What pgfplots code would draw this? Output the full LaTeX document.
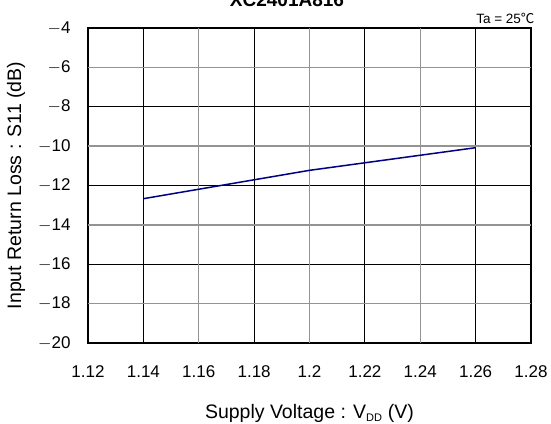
\documentclass[border=0pt]{standalone}
\usepackage{pgfplots}
\pgfplotsset{compat=1.18}
\usepackage{fontspec}
\setmainfont{Liberation Sans}
\newfontfamily\cjk{Noto Sans CJK JP}
\begin{document}
\begin{tikzpicture}[x=1pt,y=1pt]
\begin{axis}[
  at={(88pt,80pt)}, anchor=south west,
  scale only axis, width=443pt, height=315pt,
  xmin=1.12, xmax=1.28, ymin=-20, ymax=-4,
  xtick={1.12,1.14,...,1.28},
  xticklabels={1.12,1.14,1.16,1.18,1.2,1.22,1.24,1.26,1.28},
  ytick={-20,-18,...,-4},
  yticklabels={$-$20,$-$18,$-$16,$-$14,$-$12,$-$10,$-$8,$-$6,$-$4},
  minor xtick={1.14,1.18,1.22,1.26},
  minor ytick={-16,-12,-8},
  extra x ticks={1.16,1.20,1.24},
  extra x tick labels={},
  extra y ticks={-18,-14,-10,-6},
  extra y tick labels={},
  extra tick style={grid=major, major grid style={gray!85, line width=1.3pt}},
  tick style={draw=none},
  xmajorgrids=false, ymajorgrids=false,
  xminorgrids=true, yminorgrids=true,
  minor grid style={black, line width=0.8pt},
  axis line style={black, line width=1.6pt},
  ticklabel style={font=\fontsize{17}{19}\selectfont},
  xticklabel style={yshift=-19pt},
  yticklabel style={xshift=-14pt},
  xlabel={Supply Voltage : V\textsubscript{\fontsize{11}{11}\selectfont DD} (V)},
  ylabel={Input Return Loss : S11 (dB)},
  label style={font=\fontsize{19.5}{21}\selectfont},
  xlabel style={yshift=-20pt},
  ylabel style={yshift=6pt},
  clip=false,
]
\addplot[color={rgb,255:red,0;green,0;blue,130}, line width=1.5pt] coordinates {
  (1.14,-12.67) (1.20,-11.23) (1.26,-10.08)
};
\end{axis}
\node[anchor=base east, font=\fontsize{13.5}{15}\selectfont] at (538pt,399pt) {Ta = 25{\cjk ℃}};
\node[anchor=base, font=\bfseries\fontsize{19}{21}\selectfont] at (287pt,416pt) {XC2401A816};
\pgfresetboundingbox
\useasboundingbox (0,0) rectangle (551pt,423pt);
\end{tikzpicture}
\end{document}
